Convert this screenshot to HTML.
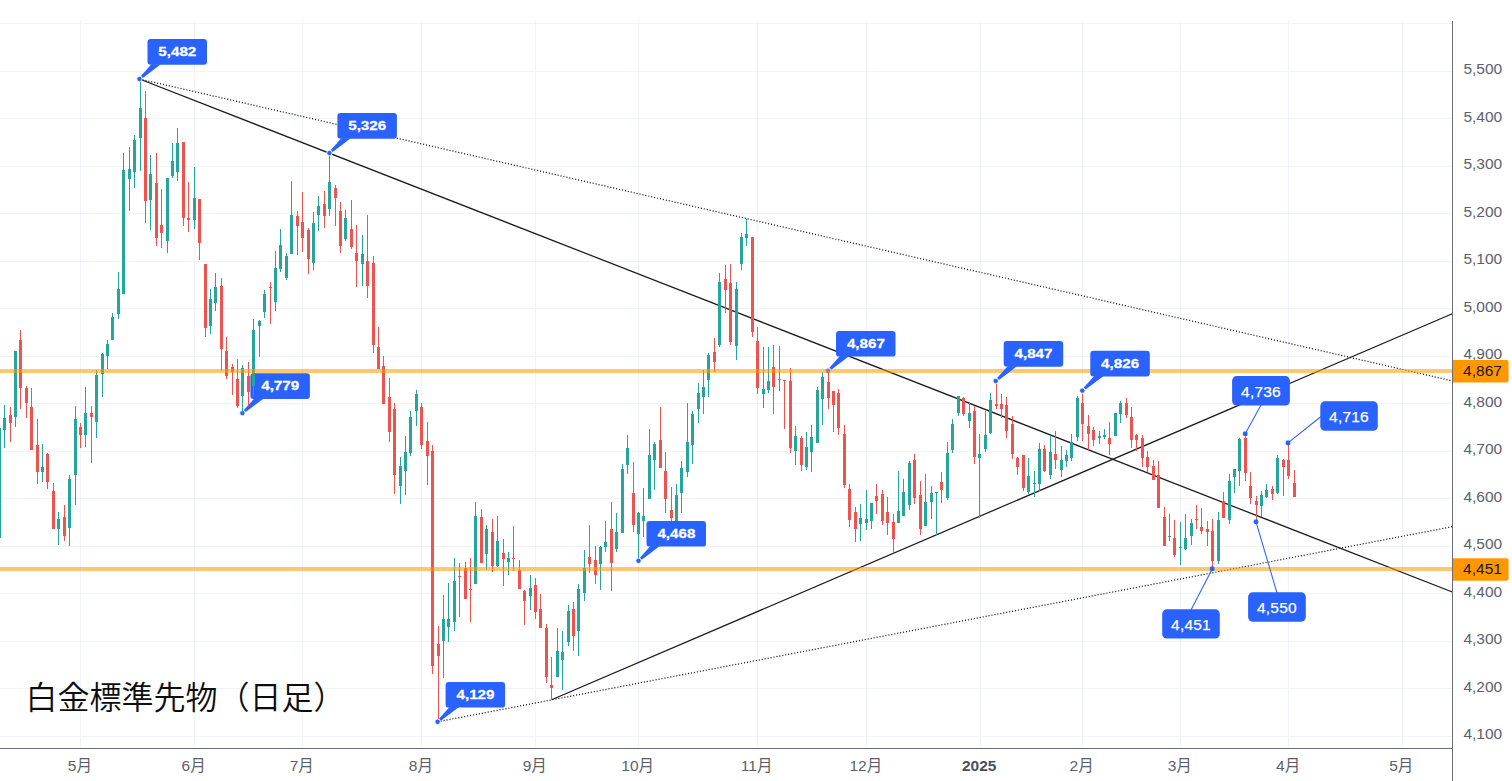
<!DOCTYPE html>
<html lang="ja"><head><meta charset="utf-8"><title>白金標準先物（日足）</title>
<style>
html,body{margin:0;padding:0;background:#fff;}
body{width:1512px;height:781px;overflow:hidden;position:relative;font-family:"Liberation Sans","Noto Sans CJK JP",sans-serif;}
svg{position:absolute;left:0;top:0;display:block;}
.ax{font:15.5px "Liberation Sans","Noto Sans CJK JP",sans-serif;fill:#5b5f6b;}
.axb{font:bold 15.5px "Liberation Sans","Noto Sans CJK JP",sans-serif;fill:#4b4f5b;}
.badge{font:15.5px "Liberation Sans",sans-serif;fill:#131722;}
.cb{font:bold 13px "Liberation Sans",sans-serif;fill:#fff;stroke:#fff;stroke-width:0.25px;}
.cr{font:15.5px "Liberation Sans",sans-serif;fill:#fff;letter-spacing:0.2px;stroke:#fff;stroke-width:0.25px;}
.title{font:350 32px "Noto Sans CJK JP","Liberation Sans",sans-serif;fill:#0c0c0c;}
</style></head><body>
<svg width="1512" height="781" viewBox="0 0 1512 781">
<rect width="1512" height="781" fill="#fff"/>
<g shape-rendering="crispEdges" fill="#f0f3fa">
<rect x="80" y="21" width="1" height="727"/>
<rect x="194" y="21" width="1" height="727"/>
<rect x="302" y="21" width="1" height="727"/>
<rect x="421" y="21" width="1" height="727"/>
<rect x="535" y="21" width="1" height="727"/>
<rect x="638" y="21" width="1" height="727"/>
<rect x="757" y="21" width="1" height="727"/>
<rect x="866" y="21" width="1" height="727"/>
<rect x="980" y="21" width="1" height="727"/>
<rect x="1082" y="21" width="1" height="727"/>
<rect x="1180" y="21" width="1" height="727"/>
<rect x="1288" y="21" width="1" height="727"/>
<rect x="1402" y="21" width="1" height="727"/>
<rect x="0" y="736" width="1452" height="1"/>
<rect x="0" y="688" width="1452" height="1"/>
<rect x="0" y="641" width="1452" height="1"/>
<rect x="0" y="593" width="1452" height="1"/>
<rect x="0" y="546" width="1452" height="1"/>
<rect x="0" y="498" width="1452" height="1"/>
<rect x="0" y="451" width="1452" height="1"/>
<rect x="0" y="403" width="1452" height="1"/>
<rect x="0" y="356" width="1452" height="1"/>
<rect x="0" y="308" width="1452" height="1"/>
<rect x="0" y="261" width="1452" height="1"/>
<rect x="0" y="213" width="1452" height="1"/>
<rect x="0" y="166" width="1452" height="1"/>
<rect x="0" y="118" width="1452" height="1"/>
<rect x="0" y="71" width="1452" height="1"/>
<rect x="0" y="23" width="1452" height="1"/>
</g>
<g stroke="#1a1a1a" stroke-width="1.25" fill="none">
<line x1="139.5" y1="79" x2="1452.3" y2="592"/>
<line x1="551.6" y1="699.7" x2="1452.3" y2="313.8"/>
<line x1="139.5" y1="79" x2="1452.3" y2="380.9" stroke-dasharray="1.1 1.9"/>
<line x1="437.6" y1="721.8" x2="1452.3" y2="526.7" stroke-dasharray="1.1 1.9"/>
</g>
<g fill="#2962ff">
<rect x="250.4" y="373.2" width="59.5" height="25.7" rx="3.2"/>
<polygon points="243.8,410.0 254.3,398.4 263.7,398.4 245.7,412.1"/>
<circle cx="242.4" cy="413.1" r="2.7" stroke="#fff" stroke-width="0.8"/>
</g>
<text class="cb" transform="translate(280.2,390.4) scale(1.17,1)" text-anchor="middle">4,779</text>
<g fill="#2962ff">
<rect x="836.0" y="330.9" width="59.5" height="25.7" rx="3.2"/>
<polygon points="829.4,367.7 839.9,356.1 849.3,356.1 831.3,369.8"/>
<circle cx="828.0" cy="370.8" r="2.7" stroke="#fff" stroke-width="0.8"/>
</g>
<text class="cb" transform="translate(865.9,348.1) scale(1.17,1)" text-anchor="middle">4,867</text>
<g shape-rendering="crispEdges">
<rect x="-1" y="424" width="1" height="116" fill="#26a69a"/><rect x="-2" y="428" width="3" height="110" fill="#26a69a"/>
<rect x="4" y="405" width="1" height="43" fill="#26a69a"/><rect x="3" y="418" width="3" height="12" fill="#26a69a"/>
<rect x="10" y="407" width="1" height="35" fill="#ef5350"/><rect x="9" y="415" width="3" height="8" fill="#ef5350"/>
<rect x="15" y="351" width="1" height="76" fill="#26a69a"/><rect x="14" y="351" width="3" height="66" fill="#26a69a"/>
<rect x="20" y="330" width="1" height="79" fill="#ef5350"/><rect x="19" y="340" width="3" height="48" fill="#ef5350"/>
<rect x="26" y="386" width="1" height="32" fill="#ef5350"/><rect x="25" y="388" width="3" height="15" fill="#ef5350"/>
<rect x="31" y="388" width="1" height="62" fill="#ef5350"/><rect x="30" y="407" width="3" height="43" fill="#ef5350"/>
<rect x="37" y="419" width="1" height="65" fill="#ef5350"/><rect x="36" y="445" width="3" height="27" fill="#ef5350"/>
<rect x="42" y="444" width="1" height="38" fill="#26a69a"/><rect x="41" y="467" width="3" height="5" fill="#26a69a"/>
<rect x="47" y="453" width="1" height="36" fill="#ef5350"/><rect x="46" y="454" width="3" height="28" fill="#ef5350"/>
<rect x="53" y="483" width="1" height="46" fill="#ef5350"/><rect x="52" y="491" width="3" height="38" fill="#ef5350"/>
<rect x="58" y="512" width="1" height="33" fill="#26a69a"/><rect x="57" y="519" width="3" height="10" fill="#26a69a"/>
<rect x="64" y="505" width="1" height="36" fill="#ef5350"/><rect x="63" y="517" width="3" height="19" fill="#ef5350"/>
<rect x="69" y="475" width="1" height="71" fill="#26a69a"/><rect x="68" y="479" width="3" height="49" fill="#26a69a"/>
<rect x="75" y="406" width="1" height="99" fill="#26a69a"/><rect x="74" y="419" width="3" height="56" fill="#26a69a"/>
<rect x="80" y="423" width="1" height="25" fill="#ef5350"/><rect x="79" y="427" width="3" height="8" fill="#ef5350"/>
<rect x="85" y="387" width="1" height="60" fill="#26a69a"/><rect x="84" y="413" width="3" height="22" fill="#26a69a"/>
<rect x="91" y="406" width="1" height="57" fill="#ef5350"/><rect x="90" y="413" width="3" height="4" fill="#ef5350"/>
<rect x="96" y="370" width="1" height="68" fill="#26a69a"/><rect x="95" y="375" width="3" height="47" fill="#26a69a"/>
<rect x="102" y="353" width="1" height="44" fill="#26a69a"/><rect x="101" y="354" width="3" height="20" fill="#26a69a"/>
<rect x="107" y="340" width="1" height="29" fill="#26a69a"/><rect x="106" y="344" width="3" height="12" fill="#26a69a"/>
<rect x="112" y="313" width="1" height="27" fill="#26a69a"/><rect x="111" y="317" width="3" height="23" fill="#26a69a"/>
<rect x="118" y="272" width="1" height="47" fill="#26a69a"/><rect x="117" y="289" width="3" height="25" fill="#26a69a"/>
<rect x="123" y="153" width="1" height="141" fill="#26a69a"/><rect x="122" y="170" width="3" height="124" fill="#26a69a"/>
<rect x="129" y="147" width="1" height="64" fill="#26a69a"/><rect x="128" y="169" width="3" height="10" fill="#26a69a"/>
<rect x="134" y="135" width="1" height="53" fill="#26a69a"/><rect x="133" y="140" width="3" height="32" fill="#26a69a"/>
<rect x="140" y="80" width="1" height="91" fill="#26a69a"/><rect x="139" y="108" width="3" height="30" fill="#26a69a"/>
<rect x="145" y="91" width="1" height="132" fill="#ef5350"/><rect x="144" y="118" width="3" height="83" fill="#ef5350"/>
<rect x="150" y="155" width="1" height="75" fill="#26a69a"/><rect x="149" y="174" width="3" height="26" fill="#26a69a"/>
<rect x="156" y="153" width="1" height="93" fill="#ef5350"/><rect x="155" y="183" width="3" height="55" fill="#ef5350"/>
<rect x="161" y="189" width="1" height="59" fill="#ef5350"/><rect x="160" y="225" width="3" height="8" fill="#ef5350"/>
<rect x="167" y="178" width="1" height="75" fill="#26a69a"/><rect x="166" y="178" width="3" height="63" fill="#26a69a"/>
<rect x="172" y="143" width="1" height="35" fill="#26a69a"/><rect x="171" y="161" width="3" height="15" fill="#26a69a"/>
<rect x="177" y="128" width="1" height="53" fill="#26a69a"/><rect x="176" y="143" width="3" height="29" fill="#26a69a"/>
<rect x="183" y="142" width="1" height="84" fill="#ef5350"/><rect x="182" y="142" width="3" height="76" fill="#ef5350"/>
<rect x="188" y="182" width="1" height="50" fill="#ef5350"/><rect x="187" y="218" width="3" height="2" fill="#ef5350"/>
<rect x="194" y="167" width="1" height="62" fill="#26a69a"/><rect x="193" y="198" width="3" height="22" fill="#26a69a"/>
<rect x="199" y="199" width="1" height="61" fill="#ef5350"/><rect x="198" y="199" width="3" height="44" fill="#ef5350"/>
<rect x="205" y="264" width="1" height="73" fill="#ef5350"/><rect x="204" y="264" width="3" height="64" fill="#ef5350"/>
<rect x="210" y="289" width="1" height="45" fill="#26a69a"/><rect x="209" y="299" width="3" height="27" fill="#26a69a"/>
<rect x="215" y="273" width="1" height="38" fill="#26a69a"/><rect x="214" y="287" width="3" height="16" fill="#26a69a"/>
<rect x="221" y="278" width="1" height="93" fill="#ef5350"/><rect x="220" y="286" width="3" height="63" fill="#ef5350"/>
<rect x="226" y="337" width="1" height="42" fill="#ef5350"/><rect x="225" y="351" width="3" height="25" fill="#ef5350"/>
<rect x="232" y="364" width="1" height="31" fill="#ef5350"/><rect x="231" y="367" width="3" height="5" fill="#ef5350"/>
<rect x="237" y="359" width="1" height="49" fill="#ef5350"/><rect x="236" y="379" width="3" height="27" fill="#ef5350"/>
<rect x="242" y="365" width="1" height="48" fill="#26a69a"/><rect x="241" y="368" width="3" height="28" fill="#26a69a"/>
<rect x="248" y="362" width="1" height="44" fill="#ef5350"/><rect x="247" y="376" width="3" height="16" fill="#ef5350"/>
<rect x="253" y="319" width="1" height="78" fill="#26a69a"/><rect x="252" y="330" width="3" height="56" fill="#26a69a"/>
<rect x="259" y="320" width="1" height="37" fill="#26a69a"/><rect x="258" y="321" width="3" height="5" fill="#26a69a"/>
<rect x="264" y="290" width="1" height="28" fill="#26a69a"/><rect x="263" y="294" width="3" height="18" fill="#26a69a"/>
<rect x="270" y="282" width="1" height="42" fill="#ef5350"/><rect x="269" y="287" width="3" height="1" fill="#ef5350"/>
<rect x="275" y="251" width="1" height="60" fill="#26a69a"/><rect x="274" y="268" width="3" height="34" fill="#26a69a"/>
<rect x="280" y="229" width="1" height="43" fill="#26a69a"/><rect x="279" y="245" width="3" height="24" fill="#26a69a"/>
<rect x="286" y="253" width="1" height="27" fill="#26a69a"/><rect x="285" y="256" width="3" height="22" fill="#26a69a"/>
<rect x="291" y="181" width="1" height="73" fill="#26a69a"/><rect x="290" y="215" width="3" height="39" fill="#26a69a"/>
<rect x="297" y="211" width="1" height="44" fill="#ef5350"/><rect x="296" y="216" width="3" height="10" fill="#ef5350"/>
<rect x="302" y="192" width="1" height="60" fill="#ef5350"/><rect x="301" y="222" width="3" height="16" fill="#ef5350"/>
<rect x="308" y="228" width="1" height="46" fill="#ef5350"/><rect x="307" y="230" width="3" height="29" fill="#ef5350"/>
<rect x="313" y="212" width="1" height="58" fill="#26a69a"/><rect x="312" y="223" width="3" height="40" fill="#26a69a"/>
<rect x="318" y="196" width="1" height="35" fill="#26a69a"/><rect x="317" y="206" width="3" height="9" fill="#26a69a"/>
<rect x="324" y="191" width="1" height="37" fill="#ef5350"/><rect x="323" y="204" width="3" height="12" fill="#ef5350"/>
<rect x="329" y="154" width="1" height="62" fill="#26a69a"/><rect x="328" y="182" width="3" height="27" fill="#26a69a"/>
<rect x="335" y="185" width="1" height="41" fill="#ef5350"/><rect x="334" y="188" width="3" height="10" fill="#ef5350"/>
<rect x="340" y="202" width="1" height="51" fill="#ef5350"/><rect x="339" y="211" width="3" height="35" fill="#ef5350"/>
<rect x="345" y="210" width="1" height="31" fill="#26a69a"/><rect x="344" y="218" width="3" height="21" fill="#26a69a"/>
<rect x="351" y="200" width="1" height="49" fill="#ef5350"/><rect x="350" y="229" width="3" height="18" fill="#ef5350"/>
<rect x="356" y="225" width="1" height="62" fill="#ef5350"/><rect x="355" y="253" width="3" height="8" fill="#ef5350"/>
<rect x="362" y="235" width="1" height="51" fill="#26a69a"/><rect x="361" y="254" width="3" height="10" fill="#26a69a"/>
<rect x="367" y="215" width="1" height="83" fill="#ef5350"/><rect x="366" y="261" width="3" height="25" fill="#ef5350"/>
<rect x="373" y="256" width="1" height="97" fill="#ef5350"/><rect x="372" y="263" width="3" height="82" fill="#ef5350"/>
<rect x="378" y="327" width="1" height="42" fill="#ef5350"/><rect x="377" y="347" width="3" height="22" fill="#ef5350"/>
<rect x="383" y="356" width="1" height="48" fill="#ef5350"/><rect x="382" y="366" width="3" height="38" fill="#ef5350"/>
<rect x="389" y="378" width="1" height="64" fill="#ef5350"/><rect x="388" y="397" width="3" height="35" fill="#ef5350"/>
<rect x="394" y="403" width="1" height="91" fill="#ef5350"/><rect x="393" y="409" width="3" height="66" fill="#ef5350"/>
<rect x="400" y="457" width="1" height="47" fill="#26a69a"/><rect x="399" y="466" width="3" height="20" fill="#26a69a"/>
<rect x="405" y="436" width="1" height="59" fill="#26a69a"/><rect x="404" y="452" width="3" height="19" fill="#26a69a"/>
<rect x="410" y="411" width="1" height="45" fill="#26a69a"/><rect x="409" y="417" width="3" height="36" fill="#26a69a"/>
<rect x="416" y="390" width="1" height="36" fill="#26a69a"/><rect x="415" y="394" width="3" height="17" fill="#26a69a"/>
<rect x="421" y="403" width="1" height="46" fill="#ef5350"/><rect x="420" y="407" width="3" height="38" fill="#ef5350"/>
<rect x="427" y="422" width="1" height="63" fill="#ef5350"/><rect x="426" y="441" width="3" height="15" fill="#ef5350"/>
<rect x="432" y="445" width="1" height="229" fill="#ef5350"/><rect x="431" y="451" width="3" height="215" fill="#ef5350"/>
<rect x="438" y="626" width="1" height="96" fill="#ef5350"/><rect x="437" y="644" width="3" height="12" fill="#ef5350"/>
<rect x="443" y="595" width="1" height="83" fill="#26a69a"/><rect x="442" y="619" width="3" height="22" fill="#26a69a"/>
<rect x="448" y="583" width="1" height="59" fill="#26a69a"/><rect x="447" y="619" width="3" height="8" fill="#26a69a"/>
<rect x="454" y="558" width="1" height="73" fill="#26a69a"/><rect x="453" y="581" width="3" height="41" fill="#26a69a"/>
<rect x="459" y="563" width="1" height="54" fill="#ef5350"/><rect x="458" y="576" width="3" height="1" fill="#ef5350"/>
<rect x="465" y="562" width="1" height="37" fill="#ef5350"/><rect x="464" y="568" width="3" height="31" fill="#ef5350"/>
<rect x="470" y="558" width="1" height="64" fill="#ef5350"/><rect x="469" y="589" width="3" height="1" fill="#ef5350"/>
<rect x="475" y="502" width="1" height="82" fill="#26a69a"/><rect x="474" y="516" width="3" height="68" fill="#26a69a"/>
<rect x="481" y="509" width="1" height="54" fill="#ef5350"/><rect x="480" y="517" width="3" height="46" fill="#ef5350"/>
<rect x="486" y="525" width="1" height="45" fill="#26a69a"/><rect x="485" y="529" width="3" height="25" fill="#26a69a"/>
<rect x="492" y="519" width="1" height="53" fill="#ef5350"/><rect x="491" y="532" width="3" height="34" fill="#ef5350"/>
<rect x="497" y="516" width="1" height="51" fill="#26a69a"/><rect x="496" y="541" width="3" height="25" fill="#26a69a"/>
<rect x="503" y="539" width="1" height="47" fill="#ef5350"/><rect x="502" y="553" width="3" height="6" fill="#ef5350"/>
<rect x="508" y="552" width="1" height="23" fill="#26a69a"/><rect x="507" y="558" width="3" height="4" fill="#26a69a"/>
<rect x="513" y="526" width="1" height="45" fill="#ef5350"/><rect x="512" y="558" width="3" height="1" fill="#ef5350"/>
<rect x="519" y="560" width="1" height="29" fill="#ef5350"/><rect x="518" y="570" width="3" height="19" fill="#ef5350"/>
<rect x="524" y="590" width="1" height="35" fill="#ef5350"/><rect x="523" y="591" width="3" height="10" fill="#ef5350"/>
<rect x="530" y="575" width="1" height="35" fill="#26a69a"/><rect x="529" y="588" width="3" height="8" fill="#26a69a"/>
<rect x="535" y="578" width="1" height="41" fill="#ef5350"/><rect x="534" y="585" width="3" height="27" fill="#ef5350"/>
<rect x="540" y="594" width="1" height="34" fill="#ef5350"/><rect x="539" y="609" width="3" height="19" fill="#ef5350"/>
<rect x="546" y="624" width="1" height="59" fill="#ef5350"/><rect x="545" y="628" width="3" height="49" fill="#ef5350"/>
<rect x="551" y="657" width="1" height="43" fill="#ef5350"/><rect x="550" y="685" width="3" height="3" fill="#ef5350"/>
<rect x="557" y="628" width="1" height="49" fill="#26a69a"/><rect x="556" y="651" width="3" height="26" fill="#26a69a"/>
<rect x="562" y="631" width="1" height="59" fill="#26a69a"/><rect x="561" y="652" width="3" height="8" fill="#26a69a"/>
<rect x="568" y="605" width="1" height="41" fill="#26a69a"/><rect x="567" y="611" width="3" height="31" fill="#26a69a"/>
<rect x="573" y="602" width="1" height="49" fill="#ef5350"/><rect x="572" y="609" width="3" height="27" fill="#ef5350"/>
<rect x="578" y="584" width="1" height="72" fill="#26a69a"/><rect x="577" y="589" width="3" height="42" fill="#26a69a"/>
<rect x="584" y="550" width="1" height="51" fill="#26a69a"/><rect x="583" y="568" width="3" height="25" fill="#26a69a"/>
<rect x="589" y="525" width="1" height="48" fill="#ef5350"/><rect x="588" y="557" width="3" height="7" fill="#ef5350"/>
<rect x="595" y="546" width="1" height="38" fill="#ef5350"/><rect x="594" y="560" width="3" height="15" fill="#ef5350"/>
<rect x="600" y="546" width="1" height="44" fill="#26a69a"/><rect x="599" y="547" width="3" height="17" fill="#26a69a"/>
<rect x="605" y="521" width="1" height="31" fill="#26a69a"/><rect x="604" y="542" width="3" height="5" fill="#26a69a"/>
<rect x="611" y="502" width="1" height="89" fill="#ef5350"/><rect x="610" y="529" width="3" height="34" fill="#ef5350"/>
<rect x="616" y="513" width="1" height="39" fill="#26a69a"/><rect x="615" y="532" width="3" height="17" fill="#26a69a"/>
<rect x="622" y="464" width="1" height="69" fill="#26a69a"/><rect x="621" y="469" width="3" height="64" fill="#26a69a"/>
<rect x="627" y="435" width="1" height="39" fill="#26a69a"/><rect x="626" y="448" width="3" height="17" fill="#26a69a"/>
<rect x="633" y="462" width="1" height="70" fill="#ef5350"/><rect x="632" y="493" width="3" height="32" fill="#ef5350"/>
<rect x="638" y="512" width="1" height="49" fill="#26a69a"/><rect x="637" y="513" width="3" height="21" fill="#26a69a"/>
<rect x="643" y="488" width="1" height="49" fill="#26a69a"/><rect x="642" y="516" width="3" height="5" fill="#26a69a"/>
<rect x="649" y="429" width="1" height="70" fill="#26a69a"/><rect x="648" y="455" width="3" height="44" fill="#26a69a"/>
<rect x="654" y="442" width="1" height="48" fill="#26a69a"/><rect x="653" y="444" width="3" height="16" fill="#26a69a"/>
<rect x="660" y="407" width="1" height="61" fill="#ef5350"/><rect x="659" y="440" width="3" height="28" fill="#ef5350"/>
<rect x="665" y="452" width="1" height="61" fill="#ef5350"/><rect x="664" y="471" width="3" height="28" fill="#ef5350"/>
<rect x="671" y="487" width="1" height="34" fill="#ef5350"/><rect x="670" y="510" width="3" height="8" fill="#ef5350"/>
<rect x="676" y="484" width="1" height="40" fill="#26a69a"/><rect x="675" y="495" width="3" height="26" fill="#26a69a"/>
<rect x="681" y="461" width="1" height="52" fill="#26a69a"/><rect x="680" y="468" width="3" height="25" fill="#26a69a"/>
<rect x="687" y="403" width="1" height="74" fill="#26a69a"/><rect x="686" y="442" width="3" height="30" fill="#26a69a"/>
<rect x="692" y="411" width="1" height="53" fill="#26a69a"/><rect x="691" y="414" width="3" height="31" fill="#26a69a"/>
<rect x="698" y="383" width="1" height="40" fill="#26a69a"/><rect x="697" y="393" width="3" height="16" fill="#26a69a"/>
<rect x="703" y="370" width="1" height="44" fill="#26a69a"/><rect x="702" y="387" width="3" height="10" fill="#26a69a"/>
<rect x="708" y="353" width="1" height="44" fill="#26a69a"/><rect x="707" y="355" width="3" height="25" fill="#26a69a"/>
<rect x="714" y="338" width="1" height="34" fill="#ef5350"/><rect x="713" y="352" width="3" height="10" fill="#ef5350"/>
<rect x="719" y="273" width="1" height="74" fill="#26a69a"/><rect x="718" y="282" width="3" height="63" fill="#26a69a"/>
<rect x="725" y="265" width="1" height="48" fill="#ef5350"/><rect x="724" y="279" width="3" height="11" fill="#ef5350"/>
<rect x="730" y="264" width="1" height="81" fill="#ef5350"/><rect x="729" y="283" width="3" height="59" fill="#ef5350"/>
<rect x="736" y="282" width="1" height="78" fill="#26a69a"/><rect x="735" y="289" width="3" height="57" fill="#26a69a"/>
<rect x="741" y="233" width="1" height="37" fill="#26a69a"/><rect x="740" y="237" width="3" height="27" fill="#26a69a"/>
<rect x="746" y="219" width="1" height="27" fill="#26a69a"/><rect x="745" y="234" width="3" height="4" fill="#26a69a"/>
<rect x="752" y="237" width="1" height="100" fill="#ef5350"/><rect x="751" y="237" width="3" height="95" fill="#ef5350"/>
<rect x="757" y="327" width="1" height="67" fill="#ef5350"/><rect x="756" y="341" width="3" height="47" fill="#ef5350"/>
<rect x="763" y="347" width="1" height="61" fill="#26a69a"/><rect x="762" y="389" width="3" height="5" fill="#26a69a"/>
<rect x="768" y="347" width="1" height="46" fill="#26a69a"/><rect x="767" y="381" width="3" height="9" fill="#26a69a"/>
<rect x="773" y="345" width="1" height="69" fill="#ef5350"/><rect x="772" y="367" width="3" height="20" fill="#ef5350"/>
<rect x="779" y="346" width="1" height="45" fill="#26a69a"/><rect x="778" y="379" width="3" height="1" fill="#26a69a"/>
<rect x="784" y="380" width="1" height="49" fill="#ef5350"/><rect x="783" y="380" width="3" height="1" fill="#ef5350"/>
<rect x="790" y="368" width="1" height="85" fill="#ef5350"/><rect x="789" y="381" width="3" height="67" fill="#ef5350"/>
<rect x="795" y="426" width="1" height="39" fill="#26a69a"/><rect x="794" y="436" width="3" height="15" fill="#26a69a"/>
<rect x="801" y="436" width="1" height="35" fill="#ef5350"/><rect x="800" y="438" width="3" height="27" fill="#ef5350"/>
<rect x="806" y="432" width="1" height="38" fill="#26a69a"/><rect x="805" y="447" width="3" height="20" fill="#26a69a"/>
<rect x="811" y="425" width="1" height="47" fill="#26a69a"/><rect x="810" y="437" width="3" height="15" fill="#26a69a"/>
<rect x="817" y="387" width="1" height="56" fill="#26a69a"/><rect x="816" y="390" width="3" height="53" fill="#26a69a"/>
<rect x="822" y="372" width="1" height="53" fill="#26a69a"/><rect x="821" y="377" width="3" height="22" fill="#26a69a"/>
<rect x="828" y="371" width="1" height="38" fill="#ef5350"/><rect x="827" y="382" width="3" height="16" fill="#ef5350"/>
<rect x="833" y="391" width="1" height="41" fill="#ef5350"/><rect x="832" y="391" width="3" height="14" fill="#ef5350"/>
<rect x="838" y="389" width="1" height="46" fill="#ef5350"/><rect x="837" y="393" width="3" height="35" fill="#ef5350"/>
<rect x="844" y="425" width="1" height="63" fill="#ef5350"/><rect x="843" y="434" width="3" height="51" fill="#ef5350"/>
<rect x="849" y="484" width="1" height="43" fill="#ef5350"/><rect x="848" y="489" width="3" height="31" fill="#ef5350"/>
<rect x="855" y="507" width="1" height="35" fill="#ef5350"/><rect x="854" y="512" width="3" height="17" fill="#ef5350"/>
<rect x="860" y="504" width="1" height="37" fill="#26a69a"/><rect x="859" y="518" width="3" height="6" fill="#26a69a"/>
<rect x="866" y="490" width="1" height="40" fill="#26a69a"/><rect x="865" y="519" width="3" height="4" fill="#26a69a"/>
<rect x="871" y="503" width="1" height="26" fill="#26a69a"/><rect x="870" y="503" width="3" height="18" fill="#26a69a"/>
<rect x="876" y="484" width="1" height="30" fill="#ef5350"/><rect x="875" y="496" width="3" height="5" fill="#ef5350"/>
<rect x="882" y="490" width="1" height="35" fill="#ef5350"/><rect x="881" y="494" width="3" height="27" fill="#ef5350"/>
<rect x="887" y="497" width="1" height="38" fill="#ef5350"/><rect x="886" y="512" width="3" height="11" fill="#ef5350"/>
<rect x="893" y="514" width="1" height="39" fill="#ef5350"/><rect x="892" y="522" width="3" height="17" fill="#ef5350"/>
<rect x="898" y="471" width="1" height="52" fill="#26a69a"/><rect x="897" y="511" width="3" height="12" fill="#26a69a"/>
<rect x="903" y="479" width="1" height="37" fill="#26a69a"/><rect x="902" y="492" width="3" height="24" fill="#26a69a"/>
<rect x="909" y="461" width="1" height="49" fill="#26a69a"/><rect x="908" y="463" width="3" height="42" fill="#26a69a"/>
<rect x="914" y="454" width="1" height="50" fill="#ef5350"/><rect x="913" y="460" width="3" height="38" fill="#ef5350"/>
<rect x="920" y="481" width="1" height="54" fill="#ef5350"/><rect x="919" y="495" width="3" height="34" fill="#ef5350"/>
<rect x="925" y="474" width="1" height="52" fill="#26a69a"/><rect x="924" y="502" width="3" height="24" fill="#26a69a"/>
<rect x="931" y="486" width="1" height="33" fill="#26a69a"/><rect x="930" y="493" width="3" height="9" fill="#26a69a"/>
<rect x="936" y="492" width="1" height="43" fill="#26a69a"/><rect x="935" y="492" width="3" height="1" fill="#26a69a"/>
<rect x="941" y="472" width="1" height="31" fill="#ef5350"/><rect x="940" y="482" width="3" height="8" fill="#ef5350"/>
<rect x="947" y="442" width="1" height="58" fill="#26a69a"/><rect x="946" y="453" width="3" height="45" fill="#26a69a"/>
<rect x="952" y="419" width="1" height="34" fill="#26a69a"/><rect x="951" y="424" width="3" height="26" fill="#26a69a"/>
<rect x="958" y="396" width="1" height="20" fill="#26a69a"/><rect x="957" y="396" width="3" height="17" fill="#26a69a"/>
<rect x="963" y="397" width="1" height="19" fill="#ef5350"/><rect x="962" y="398" width="3" height="16" fill="#ef5350"/>
<rect x="969" y="402" width="1" height="26" fill="#26a69a"/><rect x="968" y="413" width="3" height="8" fill="#26a69a"/>
<rect x="974" y="406" width="1" height="58" fill="#ef5350"/><rect x="973" y="411" width="3" height="46" fill="#ef5350"/>
<rect x="979" y="434" width="1" height="84" fill="#26a69a"/><rect x="978" y="454" width="3" height="4" fill="#26a69a"/>
<rect x="985" y="411" width="1" height="41" fill="#26a69a"/><rect x="984" y="435" width="3" height="14" fill="#26a69a"/>
<rect x="990" y="393" width="1" height="41" fill="#26a69a"/><rect x="989" y="400" width="3" height="33" fill="#26a69a"/>
<rect x="996" y="383" width="1" height="26" fill="#ef5350"/><rect x="995" y="404" width="3" height="2" fill="#ef5350"/>
<rect x="1001" y="394" width="1" height="24" fill="#ef5350"/><rect x="1000" y="404" width="3" height="5" fill="#ef5350"/>
<rect x="1006" y="397" width="1" height="41" fill="#ef5350"/><rect x="1005" y="405" width="3" height="26" fill="#ef5350"/>
<rect x="1012" y="416" width="1" height="43" fill="#ef5350"/><rect x="1011" y="424" width="3" height="30" fill="#ef5350"/>
<rect x="1017" y="457" width="1" height="18" fill="#ef5350"/><rect x="1016" y="458" width="3" height="9" fill="#ef5350"/>
<rect x="1023" y="455" width="1" height="36" fill="#ef5350"/><rect x="1022" y="455" width="3" height="33" fill="#ef5350"/>
<rect x="1028" y="458" width="1" height="36" fill="#26a69a"/><rect x="1027" y="476" width="3" height="16" fill="#26a69a"/>
<rect x="1034" y="471" width="1" height="26" fill="#26a69a"/><rect x="1033" y="483" width="3" height="1" fill="#26a69a"/>
<rect x="1039" y="443" width="1" height="48" fill="#26a69a"/><rect x="1038" y="449" width="3" height="35" fill="#26a69a"/>
<rect x="1044" y="445" width="1" height="27" fill="#ef5350"/><rect x="1043" y="449" width="3" height="22" fill="#ef5350"/>
<rect x="1050" y="435" width="1" height="44" fill="#26a69a"/><rect x="1049" y="452" width="3" height="23" fill="#26a69a"/>
<rect x="1055" y="431" width="1" height="38" fill="#ef5350"/><rect x="1054" y="454" width="3" height="6" fill="#ef5350"/>
<rect x="1061" y="446" width="1" height="31" fill="#26a69a"/><rect x="1060" y="460" width="3" height="10" fill="#26a69a"/>
<rect x="1066" y="450" width="1" height="17" fill="#26a69a"/><rect x="1065" y="455" width="3" height="6" fill="#26a69a"/>
<rect x="1071" y="434" width="1" height="27" fill="#26a69a"/><rect x="1070" y="442" width="3" height="16" fill="#26a69a"/>
<rect x="1077" y="396" width="1" height="45" fill="#26a69a"/><rect x="1076" y="398" width="3" height="39" fill="#26a69a"/>
<rect x="1082" y="393" width="1" height="48" fill="#ef5350"/><rect x="1081" y="403" width="3" height="21" fill="#ef5350"/>
<rect x="1088" y="415" width="1" height="35" fill="#ef5350"/><rect x="1087" y="426" width="3" height="8" fill="#ef5350"/>
<rect x="1093" y="427" width="1" height="19" fill="#ef5350"/><rect x="1092" y="430" width="3" height="10" fill="#ef5350"/>
<rect x="1099" y="431" width="1" height="13" fill="#26a69a"/><rect x="1098" y="436" width="3" height="2" fill="#26a69a"/>
<rect x="1104" y="429" width="1" height="10" fill="#26a69a"/><rect x="1103" y="435" width="3" height="2" fill="#26a69a"/>
<rect x="1109" y="422" width="1" height="33" fill="#ef5350"/><rect x="1108" y="438" width="3" height="6" fill="#ef5350"/>
<rect x="1115" y="413" width="1" height="23" fill="#26a69a"/><rect x="1114" y="413" width="3" height="23" fill="#26a69a"/>
<rect x="1120" y="401" width="1" height="22" fill="#26a69a"/><rect x="1119" y="403" width="3" height="11" fill="#26a69a"/>
<rect x="1126" y="398" width="1" height="20" fill="#ef5350"/><rect x="1125" y="403" width="3" height="12" fill="#ef5350"/>
<rect x="1131" y="407" width="1" height="41" fill="#ef5350"/><rect x="1130" y="417" width="3" height="23" fill="#ef5350"/>
<rect x="1136" y="434" width="1" height="17" fill="#ef5350"/><rect x="1135" y="435" width="3" height="5" fill="#ef5350"/>
<rect x="1142" y="435" width="1" height="32" fill="#ef5350"/><rect x="1141" y="438" width="3" height="20" fill="#ef5350"/>
<rect x="1147" y="451" width="1" height="21" fill="#ef5350"/><rect x="1146" y="457" width="3" height="10" fill="#ef5350"/>
<rect x="1153" y="460" width="1" height="20" fill="#ef5350"/><rect x="1152" y="466" width="3" height="14" fill="#ef5350"/>
<rect x="1158" y="461" width="1" height="47" fill="#ef5350"/><rect x="1157" y="475" width="3" height="33" fill="#ef5350"/>
<rect x="1164" y="507" width="1" height="39" fill="#ef5350"/><rect x="1163" y="517" width="3" height="29" fill="#ef5350"/>
<rect x="1169" y="514" width="1" height="27" fill="#26a69a"/><rect x="1168" y="536" width="3" height="1" fill="#26a69a"/>
<rect x="1174" y="520" width="1" height="37" fill="#ef5350"/><rect x="1173" y="538" width="3" height="17" fill="#ef5350"/>
<rect x="1180" y="522" width="1" height="43" fill="#26a69a"/><rect x="1179" y="547" width="3" height="1" fill="#26a69a"/>
<rect x="1185" y="514" width="1" height="36" fill="#26a69a"/><rect x="1184" y="538" width="3" height="11" fill="#26a69a"/>
<rect x="1191" y="519" width="1" height="26" fill="#26a69a"/><rect x="1190" y="523" width="3" height="13" fill="#26a69a"/>
<rect x="1196" y="505" width="1" height="24" fill="#ef5350"/><rect x="1195" y="519" width="3" height="1" fill="#ef5350"/>
<rect x="1201" y="508" width="1" height="26" fill="#ef5350"/><rect x="1200" y="527" width="3" height="4" fill="#ef5350"/>
<rect x="1207" y="521" width="1" height="25" fill="#ef5350"/><rect x="1206" y="529" width="3" height="3" fill="#ef5350"/>
<rect x="1212" y="519" width="1" height="50" fill="#ef5350"/><rect x="1211" y="531" width="3" height="30" fill="#ef5350"/>
<rect x="1218" y="512" width="1" height="52" fill="#26a69a"/><rect x="1217" y="520" width="3" height="41" fill="#26a69a"/>
<rect x="1223" y="492" width="1" height="26" fill="#ef5350"/><rect x="1222" y="501" width="3" height="17" fill="#ef5350"/>
<rect x="1229" y="474" width="1" height="50" fill="#26a69a"/><rect x="1228" y="481" width="3" height="39" fill="#26a69a"/>
<rect x="1234" y="469" width="1" height="24" fill="#26a69a"/><rect x="1233" y="469" width="3" height="8" fill="#26a69a"/>
<rect x="1239" y="438" width="1" height="48" fill="#26a69a"/><rect x="1238" y="439" width="3" height="32" fill="#26a69a"/>
<rect x="1245" y="435" width="1" height="46" fill="#ef5350"/><rect x="1244" y="438" width="3" height="35" fill="#ef5350"/>
<rect x="1250" y="472" width="1" height="32" fill="#ef5350"/><rect x="1249" y="486" width="3" height="12" fill="#ef5350"/>
<rect x="1256" y="496" width="1" height="24" fill="#ef5350"/><rect x="1255" y="501" width="3" height="4" fill="#ef5350"/>
<rect x="1261" y="491" width="1" height="26" fill="#26a69a"/><rect x="1260" y="495" width="3" height="11" fill="#26a69a"/>
<rect x="1266" y="484" width="1" height="14" fill="#26a69a"/><rect x="1265" y="490" width="3" height="7" fill="#26a69a"/>
<rect x="1272" y="486" width="1" height="14" fill="#ef5350"/><rect x="1271" y="489" width="3" height="5" fill="#ef5350"/>
<rect x="1277" y="455" width="1" height="39" fill="#26a69a"/><rect x="1276" y="458" width="3" height="35" fill="#26a69a"/>
<rect x="1283" y="459" width="1" height="37" fill="#ef5350"/><rect x="1282" y="460" width="3" height="7" fill="#ef5350"/>
<rect x="1288" y="444" width="1" height="35" fill="#ef5350"/><rect x="1287" y="460" width="3" height="16" fill="#ef5350"/>
<rect x="1294" y="470" width="1" height="27" fill="#ef5350"/><rect x="1293" y="483" width="3" height="14" fill="#ef5350"/>
</g>
<rect x="0" y="369" width="1452" height="4" fill="#ff9800" fill-opacity="0.55"/>
<rect x="0" y="567" width="1452" height="4" fill="#ff9800" fill-opacity="0.55"/>
<g fill="#2962ff">
<rect x="147.5" y="39.1" width="59.5" height="25.7" rx="3.2"/>
<polygon points="140.9,75.9 151.4,64.3 160.8,64.3 142.8,78.0"/>
<circle cx="139.5" cy="79.0" r="2.7" stroke="#fff" stroke-width="0.8"/>
</g>
<text class="cb" transform="translate(177.3,56.2) scale(1.17,1)" text-anchor="middle">5,482</text>
<g fill="#2962ff">
<rect x="337.4" y="113.1" width="59.5" height="25.7" rx="3.2"/>
<polygon points="330.8,149.9 341.3,138.3 350.7,138.3 332.7,152.0"/>
<circle cx="329.4" cy="153.0" r="2.7" stroke="#fff" stroke-width="0.8"/>
</g>
<text class="cb" transform="translate(367.2,130.2) scale(1.17,1)" text-anchor="middle">5,326</text>
<g fill="#2962ff">
<rect x="445.6" y="681.9" width="59.5" height="25.7" rx="3.2"/>
<polygon points="439.0,718.7 449.5,707.1 458.9,707.1 440.9,720.8"/>
<circle cx="437.6" cy="721.8" r="2.7" stroke="#fff" stroke-width="0.8"/>
</g>
<text class="cb" transform="translate(475.5,699.0) scale(1.17,1)" text-anchor="middle">4,129</text>
<g fill="#2962ff">
<rect x="646.5" y="520.9" width="59.5" height="25.7" rx="3.2"/>
<polygon points="639.9,557.7 650.4,546.1 659.8,546.1 641.8,559.8"/>
<circle cx="638.5" cy="560.8" r="2.7" stroke="#fff" stroke-width="0.8"/>
</g>
<text class="cb" transform="translate(676.4,538.0) scale(1.17,1)" text-anchor="middle">4,468</text>
<g fill="#2962ff">
<rect x="1003.7" y="341.1" width="59.5" height="25.7" rx="3.2"/>
<polygon points="997.1,377.9 1007.6,366.3 1017.0,366.3 999.0,380.0"/>
<circle cx="995.7" cy="381.0" r="2.7" stroke="#fff" stroke-width="0.8"/>
</g>
<text class="cb" transform="translate(1033.5,358.3) scale(1.17,1)" text-anchor="middle">4,847</text>
<g fill="#2962ff">
<rect x="1090.3" y="350.7" width="59.5" height="25.7" rx="3.2"/>
<polygon points="1083.7,387.5 1094.2,375.9 1103.6,375.9 1085.6,389.6"/>
<circle cx="1082.3" cy="390.6" r="2.7" stroke="#fff" stroke-width="0.8"/>
</g>
<text class="cb" transform="translate(1120.1,367.9) scale(1.17,1)" text-anchor="middle">4,826</text>
<line x1="1245.2" y1="433.8" x2="1261" y2="405" stroke="#2962ff" stroke-width="1.05"/>
<rect x="1232.1" y="376.1" width="57.8" height="29.5" rx="4.6" fill="#2962ff"/>
<text class="cr" x="1261.0" y="396.8" text-anchor="middle">4,736</text>
<line x1="1288" y1="442.9" x2="1321" y2="416.5" stroke="#2962ff" stroke-width="1.05"/>
<rect x="1320.3" y="401.3" width="57.5" height="29.5" rx="4.6" fill="#2962ff"/>
<text class="cr" x="1349.0" y="421.9" text-anchor="middle">4,716</text>
<line x1="1256" y1="521.8" x2="1277" y2="593" stroke="#2962ff" stroke-width="1.05"/>
<rect x="1248.1" y="592.3" width="57.7" height="29.4" rx="4.6" fill="#2962ff"/>
<text class="cr" x="1276.9" y="612.9" text-anchor="middle">4,550</text>
<line x1="1212.2" y1="568.9" x2="1191" y2="610" stroke="#2962ff" stroke-width="1.05"/>
<rect x="1162.2" y="609.3" width="57.6" height="29.3" rx="4.6" fill="#2962ff"/>
<text class="cr" x="1191.0" y="629.9" text-anchor="middle">4,451</text>
<rect x="1242.9" y="431.5" width="4.6" height="4.6" rx="1.4" fill="#2962ff"/>
<rect x="1285.7" y="440.6" width="4.6" height="4.6" rx="1.4" fill="#2962ff"/>
<rect x="1253.7" y="519.5" width="4.6" height="4.6" rx="1.4" fill="#2962ff"/>
<rect x="1209.9" y="566.6" width="4.6" height="4.6" rx="1.4" fill="#2962ff"/>
<g shape-rendering="crispEdges" fill="#6a6d78">
<rect x="1452" y="21" width="1" height="760"/>
<rect x="0" y="748" width="1452" height="1"/>
</g>
<text class="ax" x="1463.4" y="739.3">4,100</text>
<text class="ax" x="1463.4" y="691.8">4,200</text>
<text class="ax" x="1463.4" y="644.3">4,300</text>
<text class="ax" x="1463.4" y="596.8">4,400</text>
<text class="ax" x="1463.4" y="549.3">4,500</text>
<text class="ax" x="1463.4" y="501.8">4,600</text>
<text class="ax" x="1463.4" y="454.3">4,700</text>
<text class="ax" x="1463.4" y="406.8">4,800</text>
<text class="ax" x="1463.4" y="359.3">4,900</text>
<text class="ax" x="1463.4" y="311.8">5,000</text>
<text class="ax" x="1463.4" y="264.3">5,100</text>
<text class="ax" x="1463.4" y="216.8">5,200</text>
<text class="ax" x="1463.4" y="169.3">5,300</text>
<text class="ax" x="1463.4" y="121.8">5,400</text>
<text class="ax" x="1463.4" y="74.3">5,500</text>
<path d="M1453 360.1 H1506.6 a2 2 0 0 1 2 2 V380.5 a2 2 0 0 1 -2 2 H1453 Z" fill="#ff9800"/>
<text class="badge" x="1463.1" y="375.8">4,867</text>
<path d="M1453 558.3 H1506.6 a2 2 0 0 1 2 2 V578.7 a2 2 0 0 1 -2 2 H1453 Z" fill="#ff9800"/>
<text class="badge" x="1463.1" y="574.0">4,451</text>
<text class="ax" x="79.9" y="770.5" text-anchor="middle">5月</text>
<text class="ax" x="193.6" y="770.5" text-anchor="middle">6月</text>
<text class="ax" x="301.7" y="770.5" text-anchor="middle">7月</text>
<text class="ax" x="420.9" y="770.5" text-anchor="middle">8月</text>
<text class="ax" x="534.7" y="770.5" text-anchor="middle">9月</text>
<text class="ax" x="637.7" y="770.5" text-anchor="middle">10月</text>
<text class="ax" x="756.6" y="770.5" text-anchor="middle">11月</text>
<text class="ax" x="865.8" y="770.5" text-anchor="middle">12月</text>
<text class="axb" x="979.2" y="770.5" text-anchor="middle">2025</text>
<text class="ax" x="1081.6" y="770.5" text-anchor="middle">2月</text>
<text class="ax" x="1179.8" y="770.5" text-anchor="middle">3月</text>
<text class="ax" x="1288.1" y="770.5" text-anchor="middle">4月</text>
<text class="ax" x="1401.2" y="770.5" text-anchor="middle">5月</text>
<text class="title" x="25.6" y="708.5">白金標準先物（日足）</text>
</svg></body></html>
